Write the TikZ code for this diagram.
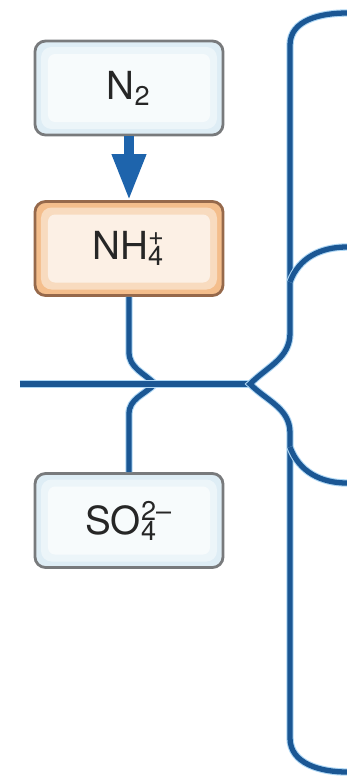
\documentclass[tikz,border=0pt]{standalone}
\usepackage{fontspec}
\setmainfont{TeX Gyre Heros}
\usetikzlibrary{arrows.meta}
\definecolor{flowblue}{RGB}{27,87,148}
\definecolor{glowblue}{RGB}{175,215,244}
\definecolor{arrowblue}{RGB}{30,100,172}
\definecolor{boxedge}{RGB}{120,122,124}
\definecolor{boxfill}{RGB}{222,237,245}
\definecolor{ammedge}{RGB}{150,105,75}
\definecolor{ammfill}{RGB}{244,190,140}
\newcommand\ionstack[2]{\rlap{\textsubscript{#1}}\textsuperscript{#2}}
\begin{document}
\begin{tikzpicture}[
  ionbox/.style 2 args={draw=#1, fill=#2, line width=0.8pt, rounded corners=3pt,
    minimum width=1.88cm, minimum height=0.94cm, inner sep=0pt,
    font=\fontsize{11}{13}\selectfont, text=black!85,
    path picture={
      \fill[white, opacity=0.45, rounded corners=3pt] ([shift={(0.06,-0.06)}]path picture bounding box.north west) rectangle ([shift={(-0.06,0.06)}]path picture bounding box.south east);
      \fill[white, opacity=0.6, rounded corners=2pt] ([shift={(0.13,-0.13)}]path picture bounding box.north west) rectangle ([shift={(-0.13,0.13)}]path picture bounding box.south east);
    }},
  flow/.style={draw=flowblue, line width=1.5pt,
    preaction={draw=glowblue, line width=2.1pt}}
]
\useasboundingbox (0,0) rectangle (3.47,-7.76);
\node[ionbox={boxedge}{boxfill}] (n2) at (1.29,-0.88) {N\textsubscript{2}};
\node[ionbox={ammedge}{ammfill}] (nh4) at (1.29,-2.485) {NH\ionstack{4}{+}};
\node[ionbox={boxedge}{boxfill}] (so4) at (1.29,-5.205) {SO\ionstack{4}{2–}};
\coordinate (inlet) at (0.20,-3.84);
\coordinate (merge) at (1.55,-3.84);
\coordinate (tip) at (2.50,-3.84);
\coordinate (topend) at (3.47,-0.13);
\coordinate (upend) at (3.47,-2.47);
\coordinate (downend) at (3.47,-4.83);
\coordinate (botend) at (3.47,-7.72);
\path[draw=arrowblue, line width=2.8pt, -{Triangle[length=4.6mm,width=3.2mm]}] (n2) -- (nh4);
\path[flow] (nh4.south) -- ++(0,-0.55) to[out=-90,in=135] (merge);
\path[flow] (so4.north) -- ++(0,0.58) to[out=90,in=-135] (merge);
\path[flow] (inlet) -- (tip);
\path[flow] (topend) to[out=180,in=90] (2.90,-0.45) -- (2.90,-3.33) to[out=-90,in=45] (tip)
  to[out=-45,in=90] (2.90,-4.33) -- (2.90,-7.38) to[out=-90,in=180] (botend);
\path[flow] (2.90,-2.82) to[out=70,in=180] (upend);
\path[flow] (2.90,-4.47) to[out=-70,in=180] (downend);
\end{tikzpicture}
\end{document}
